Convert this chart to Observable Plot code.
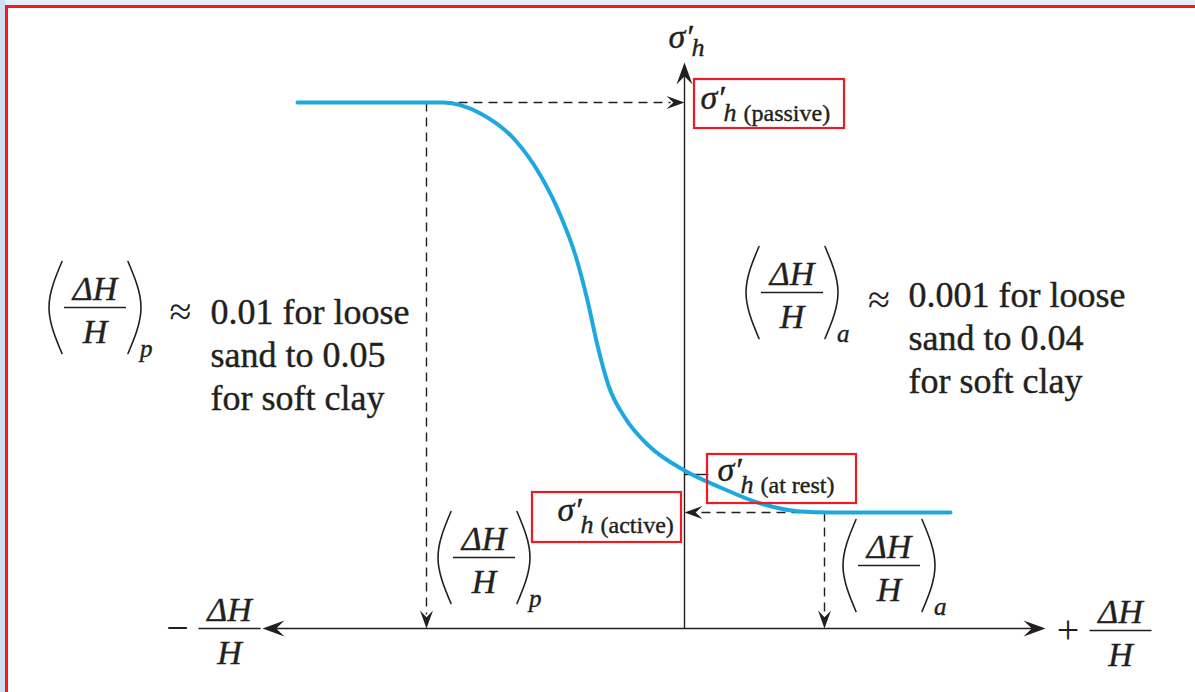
<!DOCTYPE html>
<html>
<head>
<meta charset="utf-8">
<script src="https://cdn.jsdelivr.net/npm/d3@7"></script>
<script src="https://cdn.jsdelivr.net/npm/@observablehq/plot@0.6"></script>
<style>
  html, body { margin: 0; padding: 0; background: #e5edf6; }
  #wrap { position: relative; width: 1195px; height: 692px; overflow: hidden;
          background: linear-gradient(to right, #cfe0f2 0 5px, #e6edf6 5px); }
  #sheet { position: absolute; left: 5px; top: 5px; right: 0; bottom: 0; background: #fff;
           border-left: 3px solid #f01a1f; border-top: 3px solid #f01a1f; }
  #chart { position: absolute; left: 0; top: 0; }
  #chart svg text { font-family: "Liberation Serif", "Times New Roman", "DejaVu Serif", serif !important; }
</style>
</head>
<body>
<div id="wrap"><div id="sheet"></div><div id="chart"></div></div>
<script>
// ---------------- data (schematic units) ----------------
// Horizontal effective earth pressure σ'h versus wall movement ΔH/H
const curveStrain = [-3.87, -2.41, -2.04, -1.69, -1.44, -1.24, -1.09, -0.97, -0.87, -0.76, -0.59, -0.36, 0, 0.36, 0.76, 1.16, 1.46, 2.66];
const curveStress = [5.26, 5.26, 5.15, 4.88, 4.53, 4.13, 3.73, 3.28, 2.83, 2.43, 2.10, 1.83, 1.58, 1.41, 1.25, 1.17, 1.16, 1.16];
const passiveStress = 5.26;
const atRestStress = 1.54;
const activeStress = 1.16;
const passiveStrain = -2.58;   // (ΔH/H)p
const activeStrain = 1.40;     // (ΔH/H)a
const strainAxisMin = -4.22;
const strainAxisMax = 3.61;
const stressAxisMax = 5.66;
const stateNames = ["(passive)", "(at rest)", "(active)"];
const passiveNote = ["0.01 for loose", "sand to 0.05", "for soft clay"];
const activeNote = ["0.001 for loose", "sand to 0.04", "for soft clay"];

// ---------------- style ----------------
const ink = "#231f20", blue = "#1fa8e0", red = "#ec1c24";
const serif = "Liberation Serif, Times New Roman, serif";
const PX = 0.01; // data units per pixel (both scales)

const stealth = (L, W, n) => ({
  draw(ctx) { ctx.moveTo(0, 0); ctx.lineTo(W, L); ctx.lineTo(0, L * n); ctx.lineTo(-W, L); ctx.closePath(); }
});
const bigHead = stealth(22, 8, 0.62);
const smallHead = stealth(18, 6.5, 0.62);

const textMarks = [];
function T(x, y, text, o = {}) {
  textMarks.push(Plot.text([{x, y, text}], {
    x: "x", y: "y", text: "text", fontFamily: serif, fill: ink, stroke: ink, strokeWidth: 0.4,
    textAnchor: "start", lineAnchor: "bottom", ...o
  }));
}
const fracBars = [];
const parenPts = [];
let parenId = 0;
function sigma(x, y, sub, hDy = 12) {
  T(x, y, "σ′", {fontSize: 34, fontStyle: "italic"});
  T(x, y, "h", {fontSize: 26, fontStyle: "italic", dx: 23, dy: hDy});
  if (sub) T(x, y, sub, {fontSize: 24, dx: 43, dy: hDy});
}
function frac(cx, by, sub) {
  T(cx, by, "ΔH", {fontSize: 34, fontStyle: "italic", textAnchor: "middle", dy: -8});
  T(cx, by, "H", {fontSize: 34, fontStyle: "italic", textAnchor: "middle", dy: 35});
  fracBars.push({x1: cx - 31 * PX, x2: cx + 31 * PX, y1: by, y2: by});
  if (sub) {
    for (const s of [-1, 1]) {
      const id = parenId++;
      parenPts.push({id, x: cx + s * 33 * PX, y: by + 46 * PX});
      parenPts.push({id, x: cx + s * 46 * PX, y: by});
      parenPts.push({id, x: cx + s * 33 * PX, y: by - 46 * PX});
    }
    T(cx + 45 * PX, by, sub, {fontSize: 25, fontStyle: "italic", dy: 49});
  }
}

// ---------------- annotations ----------------
sigma(-0.16, 5.81, null, 8);                 // axis title σ'h
sigma(0.16, passiveStress - 0.06, stateNames[0]);
sigma(0.33, atRestStress - 0.06, stateNames[1]);
sigma(-1.27, activeStress - 0.08, stateNames[2]);

frac(-5.895, 3.21, "p");
frac(1.075, 3.36, "a");
frac(-2.005, 0.71, "p");
frac(2.045, 0.63, "a");
frac(strainAxisMax + 0.75, -0.02, null);
frac(strainAxisMin - 0.33, 0, null);

T(strainAxisMin - 0.85, 0, "−", {fontSize: 40, textAnchor: "middle", lineAnchor: "middle", strokeWidth: 0});
T(strainAxisMax + 0.225, -0.02, "+", {fontSize: 40, textAnchor: "middle", lineAnchor: "middle", strokeWidth: 0});

T(-5.04, 3.16, "≈", {fontSize: 40, textAnchor: "middle", lineAnchor: "middle", strokeWidth: 0});
T(1.945, 3.28, "≈", {fontSize: 40, textAnchor: "middle", lineAnchor: "middle", strokeWidth: 0});
T(-4.74, 2.19, passiveNote.join("\n"), {fontSize: 36, lineHeight: 43 / 36});
T(2.24, 2.36, activeNote.join("\n"), {fontSize: 36, lineHeight: 43 / 36});

// ---------------- geometry from data ----------------
const curve = curveStrain.map((s, i) => ({s, p: curveStress[i]}));
const dashed = [
  {x1: curveStrain[1], y1: passiveStress, x2: -14 * PX, y2: passiveStress},
  {x1: passiveStrain, y1: passiveStress, x2: passiveStrain, y2: 14 * PX},
  {x1: curveStrain[15], y1: activeStress, x2: 14 * PX, y2: activeStress},
  {x1: activeStrain, y1: activeStress, x2: activeStrain, y2: 14 * PX}
];
const dashedHeads = [
  {x: 0, y: passiveStress, r: 90},
  {x: passiveStrain, y: 0, r: 180},
  {x: 0, y: activeStress, r: -90},
  {x: activeStrain, y: 0, r: 180}
];
const axisHeads = [
  {x: strainAxisMax, y: 0, r: 90},
  {x: strainAxisMin, y: 0, r: -90},
  {x: 0, y: stressAxisMax, r: 0}
];
const boxes = [
  {x1: 0.10, x2: 1.60, y1: 5.49, y2: 5.00},
  {x1: 0.23, x2: 1.72, y1: 1.74, y2: 1.25},
  {x1: -1.52, x2: -0.03, y1: 1.36, y2: 0.86}
];

const chart = Plot.plot({
  width: 1195, height: 692, margin: 0,
  x: {domain: [-6.84, 5.11], range: [0, 1195], axis: null},
  y: {domain: [-0.64, 6.28], range: [692, 0], axis: null},
  style: {background: "transparent", overflow: "visible"},
  marks: [
    Plot.link(dashed, {x1: "x1", y1: "y1", x2: "x2", y2: "y2", stroke: ink, strokeWidth: 1.4, strokeDasharray: "9,6"}),
    Plot.dot(dashedHeads, {x: "x", y: "y", rotate: "r", symbol: smallHead, fill: ink, stroke: "none"}),
    Plot.link([{x1: strainAxisMin + 0.12, x2: strainAxisMax - 0.12, y: 0}], {x1: "x1", x2: "x2", y1: "y", y2: "y", stroke: ink, strokeWidth: 1.6}),
    Plot.link([{y1: 0, y2: stressAxisMax - 0.12, x: 0}], {x1: "x", x2: "x", y1: "y1", y2: "y2", stroke: ink, strokeWidth: 1.4}),
    Plot.dot(axisHeads, {x: "x", y: "y", rotate: "r", symbol: bigHead, fill: ink, stroke: "none"}),
    Plot.link([{x1: 0, x2: 0.24, y: atRestStress}], {x1: "x1", x2: "x2", y1: "y", y2: "y", stroke: ink, strokeWidth: 1.4}),
    Plot.line(curve, {x: "s", y: "p", curve: "monotone-x", stroke: blue, strokeWidth: 4}),
    Plot.rect(boxes, {x1: "x1", x2: "x2", y1: "y1", y2: "y2", fill: "none", stroke: red, strokeWidth: 2.2}),
    Plot.link(fracBars, {x1: "x1", x2: "x2", y1: "y1", y2: "y2", stroke: ink, strokeWidth: 1.5}),
    Plot.line(parenPts, {x: "x", y: "y", z: "id", curve: "natural", stroke: ink, strokeWidth: 1.6}),
    ...textMarks
  ]
});
document.getElementById("chart").appendChild(chart);
</script>
</body>
</html>
